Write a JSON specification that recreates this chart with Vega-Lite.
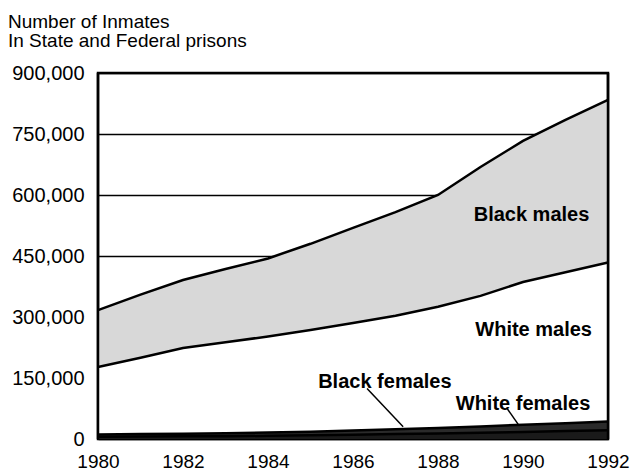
{
  "$schema": "https://vega.github.io/schema/vega-lite/v6.json",
  "width": 510,
  "height": 366,
  "autosize": "none",
  "padding": {"left": 98, "top": 73, "right": 29, "bottom": 33},
  "background": "white",
  "config": {
    "font": "Liberation Sans",
    "view": {"stroke": "black", "strokeWidth": 2.5},
    "axis": {"labelFont": "Liberation Sans", "labelColor": "black", "labelFontSize": 20}
  },
  "title": {
    "text": ["Number of Inmates", "In State and Federal prisons"],
    "anchor": "start",
    "frame": "group",
    "dx": -90,
    "dy": 32,
    "offset": 25,
    "fontSize": 19,
    "lineHeight": 19,
    "fontWeight": "normal",
    "font": "Liberation Sans",
    "color": "black",
    "baseline": "bottom"
  },
  "datasets": {
    "inmates": [
      {"year": 1980, "group": "White females", "ord": 1, "value": 5500},
      {"year": 1981, "group": "White females", "ord": 1, "value": 6000},
      {"year": 1982, "group": "White females", "ord": 1, "value": 6500},
      {"year": 1983, "group": "White females", "ord": 1, "value": 7000},
      {"year": 1984, "group": "White females", "ord": 1, "value": 8000},
      {"year": 1985, "group": "White females", "ord": 1, "value": 9000},
      {"year": 1986, "group": "White females", "ord": 1, "value": 10500},
      {"year": 1987, "group": "White females", "ord": 1, "value": 12000},
      {"year": 1988, "group": "White females", "ord": 1, "value": 13500},
      {"year": 1989, "group": "White females", "ord": 1, "value": 15500},
      {"year": 1990, "group": "White females", "ord": 1, "value": 17500},
      {"year": 1991, "group": "White females", "ord": 1, "value": 19500},
      {"year": 1992, "group": "White females", "ord": 1, "value": 21500},
      {"year": 1980, "group": "Black females", "ord": 2, "value": 5500},
      {"year": 1981, "group": "Black females", "ord": 2, "value": 6000},
      {"year": 1982, "group": "Black females", "ord": 2, "value": 6500},
      {"year": 1983, "group": "Black females", "ord": 2, "value": 7000},
      {"year": 1984, "group": "Black females", "ord": 2, "value": 8000},
      {"year": 1985, "group": "Black females", "ord": 2, "value": 9000},
      {"year": 1986, "group": "Black females", "ord": 2, "value": 10500},
      {"year": 1987, "group": "Black females", "ord": 2, "value": 12000},
      {"year": 1988, "group": "Black females", "ord": 2, "value": 13500},
      {"year": 1989, "group": "Black females", "ord": 2, "value": 15500},
      {"year": 1990, "group": "Black females", "ord": 2, "value": 17500},
      {"year": 1991, "group": "Black females", "ord": 2, "value": 19500},
      {"year": 1992, "group": "Black females", "ord": 2, "value": 21500},
      {"year": 1980, "group": "White males", "ord": 3, "value": 166000},
      {"year": 1981, "group": "White males", "ord": 3, "value": 188000},
      {"year": 1982, "group": "White males", "ord": 3, "value": 211000},
      {"year": 1983, "group": "White males", "ord": 3, "value": 224000},
      {"year": 1984, "group": "White males", "ord": 3, "value": 236000},
      {"year": 1985, "group": "White males", "ord": 3, "value": 250000},
      {"year": 1986, "group": "White males", "ord": 3, "value": 264000},
      {"year": 1987, "group": "White males", "ord": 3, "value": 279000},
      {"year": 1988, "group": "White males", "ord": 3, "value": 298000},
      {"year": 1989, "group": "White males", "ord": 3, "value": 321000},
      {"year": 1990, "group": "White males", "ord": 3, "value": 351000},
      {"year": 1991, "group": "White males", "ord": 3, "value": 371000},
      {"year": 1992, "group": "White males", "ord": 3, "value": 391000},
      {"year": 1980, "group": "Black males", "ord": 4, "value": 140000},
      {"year": 1981, "group": "Black males", "ord": 4, "value": 155000},
      {"year": 1982, "group": "Black males", "ord": 4, "value": 167000},
      {"year": 1983, "group": "Black males", "ord": 4, "value": 180000},
      {"year": 1984, "group": "Black males", "ord": 4, "value": 192000},
      {"year": 1985, "group": "Black males", "ord": 4, "value": 212000},
      {"year": 1986, "group": "Black males", "ord": 4, "value": 234000},
      {"year": 1987, "group": "Black males", "ord": 4, "value": 255000},
      {"year": 1988, "group": "Black males", "ord": 4, "value": 275000},
      {"year": 1989, "group": "Black males", "ord": 4, "value": 317000},
      {"year": 1990, "group": "Black males", "ord": 4, "value": 347000},
      {"year": 1991, "group": "Black males", "ord": 4, "value": 375000},
      {"year": 1992, "group": "Black males", "ord": 4, "value": 400000}
    ],
    "labels": [
      {"label": "Black males", "year": 1990.2, "value": 551000},
      {"label": "White males", "year": 1990.25, "value": 268000},
      {"label": "Black females", "year": 1986.75, "value": 140000},
      {"label": "White females", "year": 1990.0, "value": 86000}
    ],
    "pointers": [
      {"x1": 1986.33, "y1": 124000, "x2": 1987.18, "y2": 30000},
      {"x1": 1989.62, "y1": 76000, "x2": 1989.9, "y2": 34000}
    ],
    "frame": [
      {"year": 1980},
      {"year": 1992}
    ]
  },
  "layer": [
    {
      "data": {"name": "inmates"},
      "mark": {"type": "area", "opacity": 1},
      "encoding": {
        "x": {
          "field": "year", "type": "quantitative",
          "scale": {"domain": [1980, 1992], "nice": false, "zero": false},
          "axis": {
            "values": [1980, 1982, 1984, 1986, 1988, 1990, 1992],
            "format": "d", "title": null, "grid": false, "domain": false,
            "ticks": false, "labelPadding": 13, "labelDx": 5, "labelFlush": false,
            "labelFontSize": 19
          }
        },
        "y": {
          "field": "value", "type": "quantitative", "stack": "zero",
          "scale": {"domain": [0, 900000], "nice": false},
          "axis": {
            "values": [0, 150000, 300000, 450000, 600000, 750000, 900000],
            "format": ",d", "title": null, "grid": true, "gridColor": "black",
            "gridWidth": 1.5, "gridOpacity": 1, "domain": false, "ticks": false,
            "labelPadding": 14
          }
        },
        "color": {
          "field": "group", "type": "nominal", "legend": null,
          "scale": {
            "domain": ["White females", "Black females", "White males", "Black males"],
            "range": ["#1a1a1a", "#2a2a2a", "#ffffff", "#d8d8d8"]
          }
        },
        "order": {"field": "ord", "type": "quantitative"}
      }
    },
    {
      "data": {"name": "inmates"},
      "mark": {"type": "line", "color": "black", "strokeWidth": 2.5},
      "encoding": {
        "x": {"field": "year", "type": "quantitative"},
        "y": {"field": "value", "type": "quantitative", "stack": "zero"},
        "detail": {"field": "group", "type": "nominal"},
        "order": {"field": "ord", "type": "quantitative"}
      }
    },
    {
      "data": {"name": "frame"},
      "mark": {"type": "rule", "color": "black", "strokeWidth": 2.5},
      "encoding": {
        "x": {"field": "year", "type": "quantitative"},
        "y": {"datum": 0},
        "y2": {"datum": 900000}
      }
    },
    {
      "data": {"name": "pointers"},
      "mark": {"type": "rule", "color": "black", "strokeWidth": 1.5},
      "encoding": {
        "x": {"field": "x1", "type": "quantitative"},
        "y": {"field": "y1", "type": "quantitative"},
        "x2": {"field": "x2"},
        "y2": {"field": "y2"}
      }
    },
    {
      "data": {"name": "labels"},
      "mark": {"type": "text", "font": "Liberation Sans", "fontWeight": "bold", "fontSize": 20, "color": "black", "align": "center", "baseline": "middle"},
      "encoding": {
        "x": {"field": "year", "type": "quantitative"},
        "y": {"field": "value", "type": "quantitative"},
        "text": {"field": "label", "type": "nominal"}
      }
    }
  ]
}
